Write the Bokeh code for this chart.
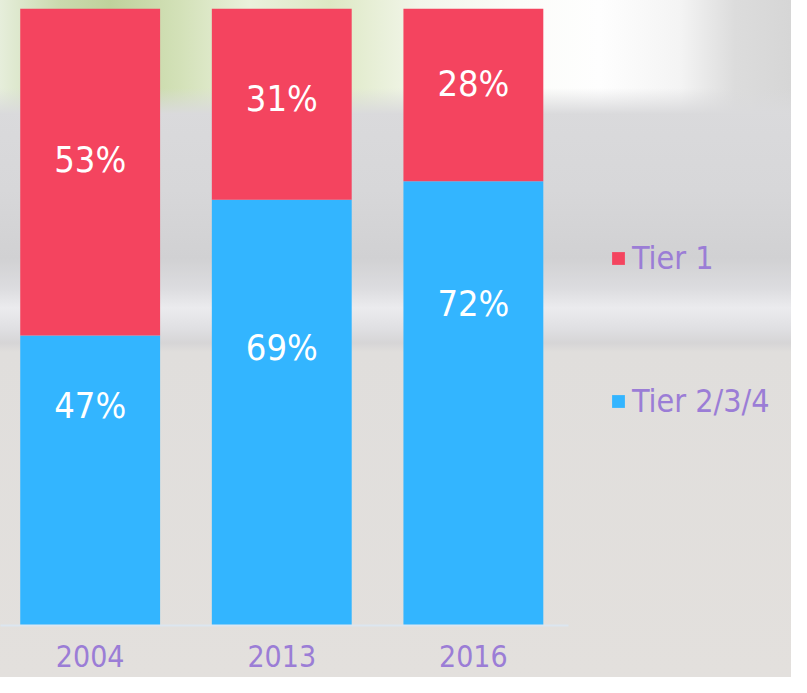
from bokeh.plotting import figure
from bokeh.models import (ColumnDataSource, Range1d, FixedTicker, Legend, LegendItem)
from bokeh.core.properties import value
from bokeh.embed import file_html
from bokeh.resources import INLINE

# ---- data ----
years = ["2004", "2013", "2016"]
tier1 = [53, 31, 28]          # red (top)
tier234 = [47, 69, 72]        # blue (bottom)
tier1_label_pos = [75.5, 85.4, 87.8]     # label heights
tier234_label_pos = [35.6, 45.1, 52.2]

RED = "#f4445f"
BLUE = "#33b5ff"
PURPLE = "#9b7dd6"
FONT = "DejaVu Sans Condensed"

xs = list(range(len(years)))
src = ColumnDataSource(dict(x=xs, tier234=tier234, tier1=tier1))

W, H = 791, 677
UNIT = 191.6
X0 = -0.468
p = figure(width=W, height=H, output_backend="svg", toolbar_location=None,
           x_range=Range1d(X0, X0 + W / UNIT), y_range=Range1d(0, 100),
           min_border_left=0, min_border_right=0, min_border_top=8, min_border_bottom=52)

p.background_fill_alpha = 0
p.border_fill_alpha = 0
p.outline_line_color = None
p.grid.visible = False
p.yaxis.visible = False

bg_main = ("linear-gradient(to bottom, #dcdcde 0px, #dadadc 108px, #d7d7d9 190px, #d1d1d3 258px, "
           "#dcdcdf 288px, #ebebee 308px, #e0e0e3 328px, #d6d5d6 343px, #e0dedc 352px, #e3e0dd 677px)")
bg_band = ("linear-gradient(to right, #e6eedb 0px, #cadaae 60px, #bfd29c 110px, #d3e1b8 180px, "
           "#eaf1dc 250px, #dde8c4 330px, #f2f6ea 420px, #fbfcf9 520px, #fefefe 600px, "
           "#f4f4f4 680px, #dcdcdc 735px, #d6d6d6 791px)")
bg_fade = ("linear-gradient(to bottom, rgba(218,218,220,0) 0px, rgba(218,218,220,0) 88px, "
           "rgba(218,218,220,1) 114px)")
p.styles = {
    "background-image": f"{bg_fade}, {bg_band}, {bg_main}",
    "background-size": "100% 114px, 100% 114px, 100% 100%",
    "background-repeat": "no-repeat",
}

rs = p.vbar_stack(["tier234", "tier1"], x="x", width=0.73, source=src,
                  color=[BLUE, RED], line_color=None)

# percentage labels
lab = ColumnDataSource(dict(
    x=xs + xs,
    y=tier234_label_pos + tier1_label_pos,
    t=[f"{v}%" for v in tier234] + [f"{v}%" for v in tier1],
))
p.text(x="x", y="y", text="t", source=lab, text_color="white",
       text_font=value(FONT), text_font_size="36px",
       text_align="center", text_baseline="middle")

# x axis
ax = p.xaxis[0]
ax.ticker = FixedTicker(ticks=xs)
ax.major_label_overrides = {i: y for i, y in zip(xs, years)}
ax.major_tick_in = 0
ax.major_tick_out = 0
ax.minor_tick_in = 0
ax.minor_tick_out = 0
ax.axis_line_color = "#dce6f0"
ax.axis_line_width = 2
ax.bounds = (X0, 2.497)
ax.major_label_text_color = PURPLE
ax.major_label_text_font = FONT
ax.major_label_text_font_size = "30px"
ax.major_label_standoff = 19

legend = Legend(items=[LegendItem(label="Tier 1", renderers=[rs[1]]),
                       LegendItem(label="Tier 2/3/4", renderers=[rs[0]])],
                location=(610, 205), orientation="vertical",
                glyph_width=16, glyph_height=16, label_height=16,
                label_standoff=6, spacing=105, padding=0, margin=0,
                border_line_color=None, background_fill_alpha=0,
                label_text_color=PURPLE, label_text_font=FONT,
                label_text_font_size="32px")
p.add_layout(legend, "center")

open("out.html", "w").write(file_html(p, INLINE))
